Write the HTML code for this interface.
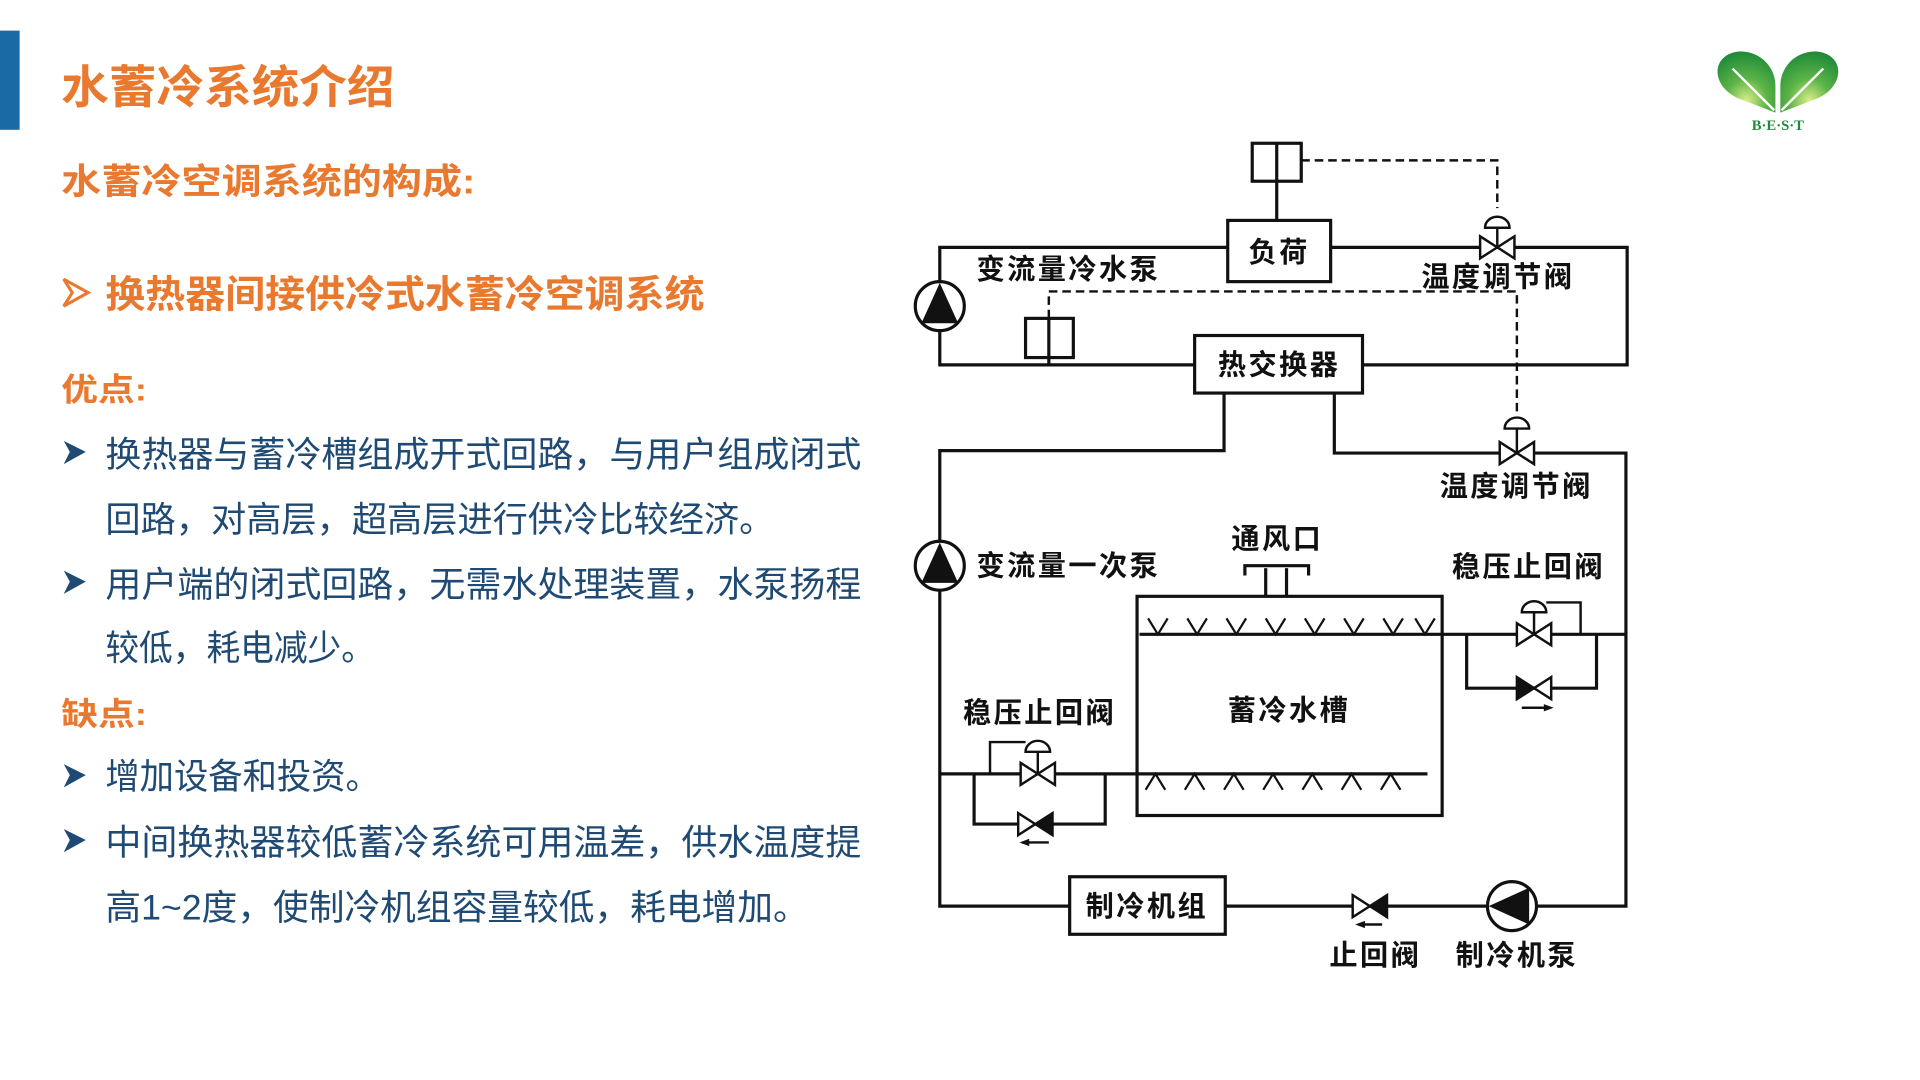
<!DOCTYPE html>
<html><head><meta charset="utf-8">
<style>
html,body{margin:0;padding:0;background:#fff;}
svg{display:block;}
.o{fill:#E8792F;font-family:"Liberation Sans","Noto Sans CJK SC",sans-serif;font-weight:bold;}
.b{fill:#1F4A73;font-family:"Liberation Sans","Noto Sans CJK SC",sans-serif;}
.d{fill:#111;font-family:"Noto Sans CJK SC","WenQuanYi Zen Hei",sans-serif;font-weight:bold;font-size:23px;letter-spacing:2px;}
.l{stroke:#111;stroke-width:2.6;fill:none;}
.ds{stroke:#111;stroke-width:2;fill:none;stroke-dasharray:7 4;}
</style></head>
<body>
<svg width="1920" height="1080" viewBox="0 0 1567 882" preserveAspectRatio="none" xmlns="http://www.w3.org/2000/svg">
<defs>
<radialGradient id="g" cx="0.5" cy="0.8" r="0.8">
<stop offset="0" stop-color="#d8ec8a"/><stop offset="0.45" stop-color="#5cb446"/><stop offset="1" stop-color="#1f8a3a"/>
</radialGradient>
</defs>
<rect x="0" y="25" width="16" height="81" fill="#1A6AA5"/>
<text class="o" x="50" y="84" font-size="37" textLength="272" lengthAdjust="spacingAndGlyphs">水蓄冷系统介绍</text>
<text class="o" x="50" y="158" font-size="29" textLength="338" lengthAdjust="spacingAndGlyphs">水蓄冷空调系统的构成:</text>
<polygon points="52,228 72,239 52,250 59,239" fill="none" stroke="#E8792F" stroke-width="2.5"/>
<text class="o" x="86" y="251" font-size="31" textLength="489" lengthAdjust="spacingAndGlyphs">换热器间接供冷式水蓄冷空调系统</text>
<text class="o" x="50" y="327" font-size="26" textLength="70" lengthAdjust="spacingAndGlyphs">优点:</text>
<g fill="#1F4A73"><polygon points="52,360 70,369 52,379 57,369"/><polygon points="52,466 70,475 52,485 57,475"/><polygon points="52,624 70,633 52,643 57,633"/><polygon points="52,677 70,686 52,696 57,686"/></g>
<text class="b" x="86" y="381" font-size="29" textLength="617" lengthAdjust="spacingAndGlyphs">换热器与蓄冷槽组成开式回路，与用户组成闭式</text>
<text class="b" x="86" y="434" font-size="29" textLength="546" lengthAdjust="spacingAndGlyphs">回路，对高层，超高层进行供冷比较经济。</text>
<text class="b" x="86" y="487" font-size="29" textLength="617" lengthAdjust="spacingAndGlyphs">用户端的闭式回路，无需水处理装置，水泵扬程</text>
<text class="b" x="86" y="539" font-size="29" textLength="220" lengthAdjust="spacingAndGlyphs">较低，耗电减少。</text>
<text class="o" x="50" y="592" font-size="26" textLength="70" lengthAdjust="spacingAndGlyphs">缺点:</text>
<text class="b" x="86" y="644" font-size="29" textLength="224" lengthAdjust="spacingAndGlyphs">增加设备和投资。</text>
<text class="b" x="86" y="698" font-size="29" textLength="617" lengthAdjust="spacingAndGlyphs">中间换热器较低蓄冷系统可用温差，供水温度提</text>
<text class="b" x="86" y="751" font-size="29" textLength="574" lengthAdjust="spacingAndGlyphs">高1~2度，使制冷机组容量较低，耗电增加。</text>

<!-- logo -->
<path d="M1449,92 L1418,80 C1396,70 1396,44 1420,42 C1438,42 1449,56 1449,70 Z" fill="url(#g)"/>
<path d="M1453,92 L1484,80 C1506,70 1506,44 1482,42 C1464,42 1453,56 1453,70 Z" fill="url(#g)"/>
<line x1="1414" y1="56" x2="1448" y2="90" stroke="#fff" stroke-width="2"/>
<line x1="1488" y1="56" x2="1454" y2="90" stroke="#fff" stroke-width="2"/>
<text x="1451" y="106" font-size="12" text-anchor="middle" fill="#1f8a3a" font-family="Liberation Serif,serif" font-weight="bold">B·E·S·T</text>

<!-- diagram -->
<rect class="l" x="1022" y="117" width="40" height="31"/>
<line class="l" x1="1042" y1="117" x2="1042" y2="180"/>
<polyline class="ds" points="1062,131 1222,131 1222,170"/>
<rect class="l" x="1002" y="180" width="84" height="50"/>
<text class="d" x="1044" y="214" text-anchor="middle">负荷</text>
<polyline class="l" points="1002,202 767,202 767,298 975,298"/>
<polyline class="l" points="1086,202 1328,202 1328,298 1112,298"/>
<rect class="l" x="837" y="260" width="39" height="32"/>
<line class="l" x1="856" y1="260" x2="856" y2="298"/>
<polyline class="ds" points="856,260 856,238 1238,238 1238,338"/>
<rect class="l" x="975" y="274" width="137" height="47"/>
<text class="d" x="1044" y="306" text-anchor="middle">热交换器</text>
<text class="d" x="797" y="228">变流量冷水泵</text>
<text class="d" x="1160" y="234">温度调节阀</text>
<polyline class="l" points="999,321 999,368 767,368 767,740 873,740"/>
<polyline class="l" points="1089,321 1089,370 1327,370 1327,740 1000,740"/>
<text class="d" x="1175" y="405">温度调节阀</text>
<text class="d" x="797" y="470">变流量一次泵</text>
<text class="d" x="1005" y="448">通风口</text>
<text class="d" x="1185" y="471">稳压止回阀</text>
<text class="d" x="786" y="590">稳压止回阀</text>
<g>
<circle cx="767" cy="250" r="20" fill="#fff" stroke="#111" stroke-width="2.6"/><polygon points="767,231 752,264 782,264" fill="#111"/>
<circle cx="767" cy="462" r="20" fill="#fff" stroke="#111" stroke-width="2.6"/><polygon points="767,443 752,476 782,476" fill="#111"/>
<circle cx="1234" cy="740" r="20" fill="#fff" stroke="#111" stroke-width="2.6"/><polygon points="1215,740 1248,725 1248,755" fill="#111"/>
</g>
<g stroke="#111" stroke-width="2" fill="#fff">
<polygon points="1208,193 1236,211 1236,193 1208,211"/>
<line x1="1222" y1="202" x2="1222" y2="186"/><path d="M1212,186 A10,9 0 0 1 1232,186 Z"/>
<polygon points="1224,361 1252,379 1252,361 1224,379"/>
<line x1="1238" y1="370" x2="1238" y2="350"/><path d="M1228,350 A10,9 0 0 1 1248,350 Z"/>
</g>
<polyline class="l" points="1016,470 1016,462 1068,462 1068,470"/>
<polyline class="l" points="1033,487 1033,464"/><polyline class="l" points="1050,487 1050,464"/>
<rect class="l" x="928" y="487" width="249" height="179"/>
<text class="d" x="1052" y="588" text-anchor="middle">蓄冷水槽</text>
<line class="l" x1="930" y1="518" x2="1327" y2="518"/>
<path stroke="#111" stroke-width="1.8" fill="none" d="M937,505 L945,518 L953,505 M969,505 L977,518 L985,505 M1001,505 L1009,518 L1017,505 M1033,505 L1041,518 L1049,505 M1065,505 L1073,518 L1081,505 M1097,505 L1105,518 L1113,505 M1129,505 L1137,518 L1145,505 M1155,505 L1163,518 L1171,505"/>
<line class="l" x1="767" y1="632" x2="1165" y2="632"/>
<path stroke="#111" stroke-width="1.8" fill="none" d="M935,645 L943,632 L951,645 M967,645 L975,632 L983,645 M999,645 L1007,632 L1015,645 M1031,645 L1039,632 L1047,645 M1063,645 L1071,632 L1079,645 M1095,645 L1103,632 L1111,645 M1127,645 L1135,632 L1143,645"/>
<polyline class="l" points="1197,518 1197,562 1303,562 1303,518"/>
<g stroke="#111" stroke-width="2" fill="#fff">
<polygon points="1238,509 1266,527 1266,509 1238,527"/>
<line x1="1252" y1="518" x2="1252" y2="500"/><path d="M1242,500 A10,9 0 0 1 1262,500 Z"/>
<polyline points="1262,492 1290,492 1290,518" fill="none"/>
<polygon points="1266,553 1266,571 1252,562" />
</g>
<polygon points="1238,553 1238,571 1252,562" fill="#111" stroke="#111" stroke-width="2"/>
<line x1="1242" y1="578" x2="1262" y2="578" stroke="#111" stroke-width="2"/><polygon points="1268,578 1260,575 1260,581" fill="#111"/>
<polyline class="l" points="795,632 795,673 902,673 902,632"/>
<g stroke="#111" stroke-width="2" fill="#fff">
<polygon points="833,623 861,641 861,623 833,641"/>
<line x1="847" y1="632" x2="847" y2="614"/><path d="M837,614 A10,9 0 0 1 857,614 Z"/>
<polyline points="837,606 808,606 808,632" fill="none"/>
<polygon points="831,664 831,682 845,673"/>
</g>
<polygon points="859,664 859,682 845,673" fill="#111" stroke="#111" stroke-width="2"/>
<line x1="838" y1="688" x2="856" y2="688" stroke="#111" stroke-width="2"/><polygon points="832,688 840,685 840,691" fill="#111"/>
<rect class="l" x="873" y="716" width="127" height="47"/>
<text class="d" x="936" y="748" text-anchor="middle">制冷机组</text>
<polygon points="1104,731 1104,749 1118,740" fill="#fff" stroke="#111" stroke-width="2"/>
<polygon points="1132,731 1132,749 1118,740" fill="#111" stroke="#111" stroke-width="2"/>
<line x1="1112" y1="755" x2="1128" y2="755" stroke="#111" stroke-width="2"/><polygon points="1106,755 1114,752 1114,758" fill="#111"/>
<text class="d" x="1085" y="788">止回阀</text>
<text class="d" x="1188" y="788">制冷机泵</text>
</svg>
</body></html>
